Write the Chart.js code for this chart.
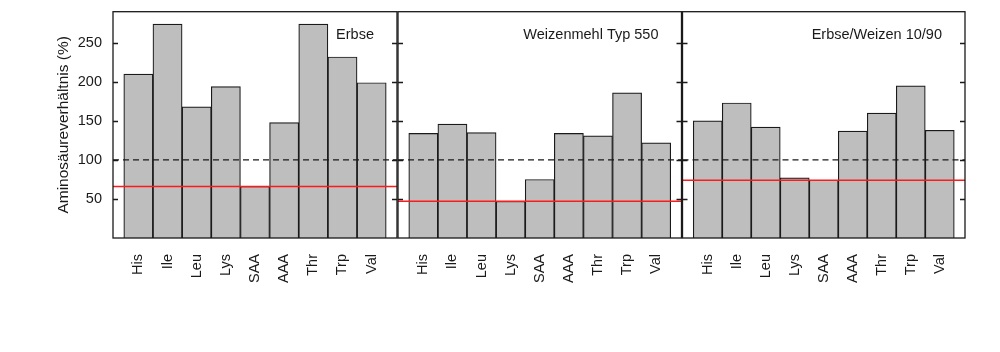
<!DOCTYPE html>
<html>
<head>
<meta charset="utf-8">
<script src="https://cdn.jsdelivr.net/npm/chart.js@4"></script>
<style>
  html, body { margin: 0; padding: 0; background: #fff; }
  #wrap { position: relative; width: 1000px; height: 352px; }
  #wrap canvas { position: absolute; left: 0; top: 0; }
</style>
</head>
<body>
<div id="wrap">
  <canvas id="p1" width="1000" height="352"></canvas>
  <canvas id="p2" width="1000" height="352"></canvas>
  <canvas id="p3" width="1000" height="352"></canvas>
</div>
<script>
// amino acids on the x axis
const aminoAcids = ['His', 'Ile', 'Leu', 'Lys', 'SAA', 'AAA', 'Thr', 'Trp', 'Val'];

// ratio values in %
const erbse = [210, 274, 168, 194, 66, 148, 274, 232, 199];
const weizen = [134, 146, 135, 47, 75, 134, 131, 186, 122];
const mischung = [150, 173, 142, 77, 74, 137, 160, 195, 138];

// limiting amino acid (red line) per panel
const limitErbse = 66;
const limitWeizen = 47;
const limitMischung = 74;

const referenz = 100;
const yTicks = [50, 100, 150, 200, 250];
const yMax = 290;

Chart.defaults.font.family = "'Liberation Sans', Arial, sans-serif";
Chart.defaults.font.size = 14.5;
Chart.defaults.color = '#1a1a1a';

// x range so bars sit with a small gap to the frame
const xMin = -0.87, xMax = 8.87;

// frame, inward ticks and panel name
const framePlugin = {
  id: 'frame',
  afterDatasetsDraw(chart, args, opts) {
    const { ctx, chartArea: a, scales: { y } } = chart;
    ctx.save();
    ctx.strokeStyle = '#1a1a1a';
    ctx.lineWidth = 1.3;
    ctx.strokeRect(a.left, a.top, a.right - a.left, a.bottom - a.top);
    ctx.beginPath();
    yTicks.forEach(v => {
      const py = Math.round(y.getPixelForValue(v)) + 0.5;
      ctx.moveTo(a.left, py); ctx.lineTo(a.left + 5, py);
      ctx.moveTo(a.right - 5, py); ctx.lineTo(a.right, py);
    });
    ctx.stroke();
    ctx.font = "14.5px 'Liberation Sans', Arial, sans-serif";
    ctx.textAlign = 'right';
    ctx.fillStyle = '#1a1a1a';
    ctx.fillText(opts.text, a.right - 23, a.top + 27.5);
    ctx.restore();
  }
};

function makePanel(id, values, limit, name, left, right, showAxis) {
  return new Chart(document.getElementById(id), {
    type: 'bar',
    data: {
      datasets: [
        {
          type: 'line',
          data: [{ x: xMin, y: limit }, { x: xMax, y: limit }],
          borderColor: '#ff1a1a',
          borderWidth: 1.5,
          pointRadius: 0,
          order: 0
        },
        {
          type: 'line',
          data: [{ x: xMin, y: referenz }, { x: xMax, y: referenz }],
          borderColor: '#1a1a1a',
          borderWidth: 1.2,
          borderDash: [6, 4],
          pointRadius: 0,
          order: 0
        },
        {
          data: values.map((v, i) => ({ x: i, y: v })),
          backgroundColor: '#bebebe',
          borderColor: '#1a1a1a',
          borderWidth: 1.2,
          barPercentage: 1,
          categoryPercentage: 1,
          order: 1
        }
      ]
    },
    options: {
      responsive: false,
      animation: false,
      events: [],
      layout: { padding: { left: 0, right: 1000 - right, top: 11.7, bottom: 0 } },
      plugins: {
        legend: { display: false },
        tooltip: { enabled: false },
        frame: { text: name }
      },
      scales: {
        x: {
          type: 'linear',
          min: xMin,
          max: xMax,
          offset: false,
          grid: { display: false, drawTicks: false },
          border: { display: false },
          afterBuildTicks: s => { s.ticks = aminoAcids.map((_, i) => ({ value: i })); },
          afterFit: s => { s.height = 114; s.paddingLeft = 0; s.paddingRight = 0; },
          ticks: {
            autoSkip: false,
            minRotation: 90,
            maxRotation: 90,
            padding: 16,
            callback: v => aminoAcids[v]
          }
        },
        y: {
          display: showAxis,
          min: 0,
          max: yMax,
          grid: { display: false, drawTicks: false },
          border: { display: false },
          afterBuildTicks: s => { s.ticks = yTicks.map(v => ({ value: v })); },
          afterFit: s => { s.width = left; s.paddingTop = 0; s.paddingBottom = 0; },
          title: {
            display: true,
            text: 'Aminosäureverhältnis (%)',
            font: { size: 15.5 },
            padding: { top: 54, bottom: 0 }
          },
          ticks: { padding: 11 }
        }
      }
    },
    plugins: [framePlugin]
  });
}

makePanel('p1', erbse, limitErbse, 'Erbse', 113, 397, true);
makePanel('p2', weizen, limitWeizen, 'Weizenmehl Typ 550', 398, 681.5, false);
makePanel('p3', mischung, limitMischung, 'Erbse/Weizen 10/90', 682.5, 965, false);
</script>
</body>
</html>
